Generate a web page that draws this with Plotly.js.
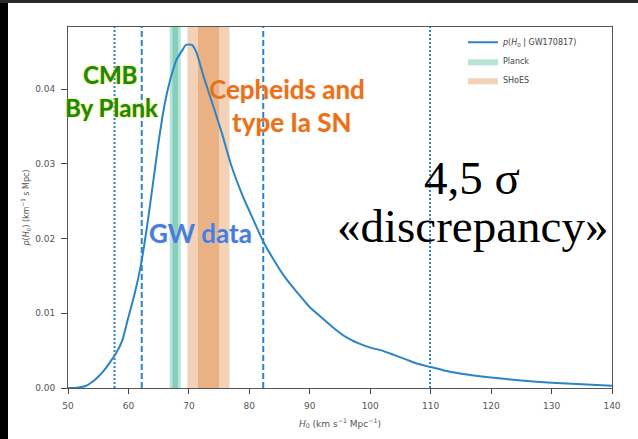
<!DOCTYPE html>
<html><head><meta charset="utf-8">
<script src="https://cdn.plot.ly/plotly-3.0.1.min.js"></script>
<style>
html,body{margin:0;padding:0;background:#fff;overflow:hidden}
#wrap{position:relative;width:638px;height:439px}
#chart{width:638px;height:439px}
#lbar{position:absolute;left:0;top:0;width:8px;height:439px;background:#000}
#tbar{position:absolute;left:0;top:0;width:638px;height:3px;background:#2a2a2a}
</style></head><body>
<div id="wrap"><div id="chart"></div><div id="lbar"></div><div id="tbar"></div></div>
<script>
// Posterior p(H0 | GW170817)
const h0 = [50,51,52,53,54,55,56,57,58,59,60,61,62,63,64,65,66,67,68,69,69.5,70.5,71.2,72.5,74,75.5,77,79,80.5,82.3,84,86,88,90,92,94,96,98,100,102,104,106,108,110,113,116,120,125,130,135,140];
const density = [0,0,0.0001,0.0003,0.0008,0.0015,0.0024,0.0035,0.0047,0.0064,0.0095,0.0125,0.0162,0.0212,0.0270,0.0330,0.0380,0.0415,0.0440,0.0453,0.0459,0.0459,0.0450,0.0415,0.0378,0.0340,0.0298,0.0255,0.0228,0.0196,0.0172,0.0147,0.0127,0.0108,0.0094,0.0080,0.0068,0.0060,0.0054,0.0050,0.0044,0.0038,0.0032,0.0028,0.0022,0.0018,0.0014,0.0010,0.0007,0.0005,0.0003];
// Planck and SHoES measurements (mean, sigma)
const planck = [67.74, 0.46];
const shoes = [73.24, 1.74];
// GW credible intervals
const gw68 = [62.2, 82.3];
const gw95 = [57.7, 109.9];
const xTicks = [50,60,70,80,90,100,110,120,130,140];
const yTicks = [0,0.01,0.02,0.03,0.04];
const yTop = 0.0483;

const blue = '#2a84c6';
function band(m, s, k, color, name, show) {
  const lo = m - k*s, hi = m + k*s;
  return {x:[lo,lo,hi,hi,lo], y:[0,yTop,yTop,0,0], type:'scatter', mode:'lines',
    fill:'toself', fillcolor:color, line:{width:0}, name:name, showlegend:show,
    hoverinfo:'skip'};
}
const traces = [
  Object.assign(band(planck[0], planck[1], 2, 'rgba(0,158,115,0.28)', 'Planck', true), {legendrank:2}),
  Object.assign(band(planck[0], planck[1], 1, 'rgba(0,158,115,0.28)', 'Planck', false), {legendrank:5}),
  Object.assign(band(shoes[0], shoes[1], 2, 'rgba(213,94,0,0.28)', 'SHoES', true), {legendrank:3}),
  Object.assign(band(shoes[0], shoes[1], 1, 'rgba(213,94,0,0.28)', 'SHoES', false), {legendrank:6}),
  {x:h0, y:density, type:'scatter', mode:'lines', line:{color:blue, width:2, shape:'spline', smoothing:0.5},
   name:'<i>p</i>(<i>H</i><sub>0</sub> | GW170817)', legendrank:1}
];
const shapes = [];
gw68.forEach(v => shapes.push({type:'line', xref:'x', yref:'paper', x0:v, x1:v, y0:0, y1:1,
  line:{color:blue, width:2, dash:'6px,3px'}}));
gw95.forEach(v => shapes.push({type:'line', xref:'x', yref:'paper', x0:v, x1:v, y0:0, y1:1,
  line:{color:blue, width:2, dash:'2px,2px'}}));

// pixel helpers for annotation placement
const px2x = p => 50 + (p-68)/544*90;
const py2y = p => (388-p)/361*yTop;
function ann(text, px, py, font) {
  return {text:text, x:px2x(px), y:py2y(py), xref:'x', yref:'y', showarrow:false,
    xanchor:'center', yanchor:'middle', font:font};
}
const cmbFont = {family:'Lato, "Open Sans", sans-serif', size:24, color:'#168a1c', weight:700,
  shadow:'0 0 2px #f2d200, 0 0 1px #f2d200'};
const cephFont = {family:'Lato, "Open Sans", sans-serif', size:26, color:'#e8711c', weight:700,
  shadow:'0 0 2px #fbd2b0'};
const gwFont = {family:'Lato, "Open Sans", sans-serif', size:26, color:'#4a7dd6', weight:700,
  shadow:'0 0 2px #c6d8f4'};
const serif = {family:'"Liberation Serif", "DejaVu Serif", serif', size:47, color:'#000'};
const annotations = [
  ann('CMB', 110, 74, cmbFont),
  ann('By Plank', 111, 107, cmbFont),
  ann('Cepheids and', 287, 89, cephFont),
  ann('type Ia SN', 292, 122, cephFont),
  ann('GW data', 200, 233, gwFont),
  ann('4,5 σ', 472, 178, serif),
  ann('«discrepancy»', 472, 226, serif)
];

const tickFont = {family:'"DejaVu Sans", sans-serif', size:9, color:'#555'};
const layout = {
  width:638, height:439,
  margin:{l:68, r:26, t:27, b:51},
  paper_bgcolor:'#fff', plot_bgcolor:'#fff',
  showlegend:true,
  legend:{x:0.726, y:0.998, xanchor:'left', yanchor:'top', bgcolor:'rgba(0,0,0,0)',
    font:{family:'"DejaVu Sans", sans-serif', size:8, color:'#444'}, tracegroupgap:0, itemwidth:30},
  xaxis:{range:[50,140], tickvals:xTicks, ticks:'outside', ticklen:5, tickcolor:'#444',
    ticklabelstandoff:4,
    showline:true, mirror:true, linecolor:'#555', linewidth:1, showgrid:false, zeroline:false,
    tickfont:tickFont,
    title:{text:'<i>H</i><sub>0</sub> (km s<sup>−1</sup> Mpc<sup>−1</sup>)', font:tickFont, standoff:10}},
  yaxis:{range:[0,yTop], tickvals:yTicks, tickformat:'.2f', ticks:'outside', ticklen:6, tickcolor:'#444',
    ticklabelstandoff:4,
    showline:true, mirror:true, linecolor:'#555', linewidth:1, showgrid:false, zeroline:false,
    tickfont:tickFont,
    title:{text:'<i>p</i>(<i>H</i><sub>0</sub>) (km<sup>−1</sup> s Mpc)', font:{family:'"DejaVu Sans", sans-serif', size:8, color:'#555'}, standoff:4}},
  shapes:shapes,
  annotations:annotations
};
Plotly.newPlot('chart', traces, layout, {displayModeBar:false, staticPlot:true});
</script></body></html>
